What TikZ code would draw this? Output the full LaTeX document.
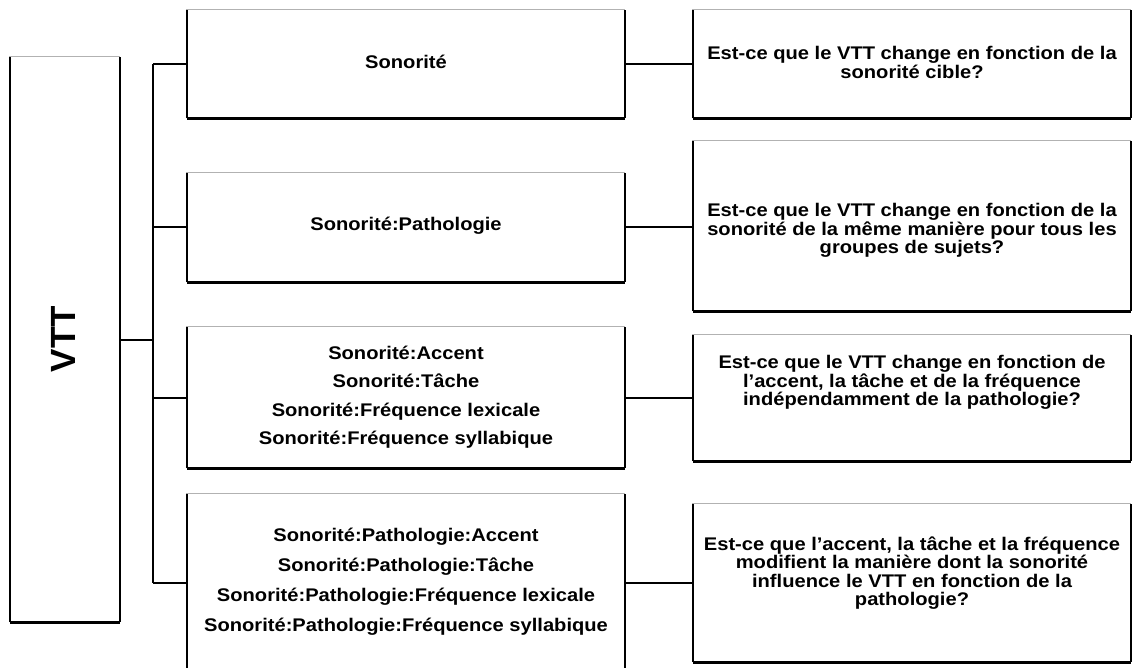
\documentclass[tikz,border=0pt]{standalone}
\usepackage{fontspec}
\setmainfont{Liberation Sans}[FakeStretch=1.1]
\newfontfamily\vttfont{Liberation Sans}
\usetikzlibrary{fit}
\newcommand\mybox[5]{%
  \path (#2,#3) coordinate (#1-nw) (#4,#5) coordinate (#1-se);
  \node[boxshape, fit=(#1-nw)(#1-se)] (#1) {};
  \draw[gray!60, line width=1pt] (#1.south west) |- (#1.north east);
  \draw[black, line width=1.6pt] (#1.south west) -- (#1.north west);
  \draw[black, line width=2.1pt] (#1.south east) -- (#1.north east);
  \draw[black, line width=3.2pt] (#1.south west) -- (#1.south east);
}
\begin{document}
\begin{tikzpicture}[x=1pt,y=-1pt,
  boxshape/.style={draw=none, fill=white, inner sep=0pt},
  conn/.style={line width=2pt, black},
  lbl/.style={font=\bfseries\fontsize{18.3}{18.5}\selectfont, align=center, inner sep=0pt},
]
\clip (0,0) rectangle (1135,668);
\fill[white] (0,0) rectangle (1135,668);

\mybox{vtt}{10}{57}{120}{622}
\mybox{m1}{187}{10}{625}{118}
\mybox{m2}{187}{173}{625}{282}
\mybox{m3}{187}{327}{625}{468}
\mybox{m4}{187}{494}{625}{672}
\mybox{r1}{693}{10}{1131}{118}
\mybox{r2}{693}{141}{1131}{311}
\mybox{r3}{693}{335}{1131}{461}
\mybox{r4}{693}{504}{1131}{662}

\coordinate (tx) at (153,0);
\draw[conn] (vtt.east) -- (vtt.east -| tx);
\draw[conn] (m1.west -| tx) -- (m4.west -| tx);
\foreach \m in {m1,m2,m3,m4} {\draw[conn] (\m.west -| tx) -- (\m.west);}
\foreach \m/\r in {m1/r1,m2/r2,m3/r3,m4/r4} {\draw[conn] (\m.east) -- (\m.east -| \r.west);}

\node[rotate=90, font=\vttfont\bfseries\fontsize{35}{35}\selectfont, inner sep=0pt] (vttt) at (63,339) {VTT};

\node[lbl] (m1t) at (406,62) {Sonorité};
\node[lbl] (m2t) at (406,226) {Sonorité:Pathologie};
\node[lbl, font=\bfseries\fontsize{18.3}{28.5}\selectfont] (m3t) at (406,397) {Sonorité:Accent\\Sonorité:Tâche\\Sonorité:Fréquence lexicale\\Sonorité:Fréquence syllabique};
\node[lbl, font=\bfseries\fontsize{18.3}{30}\selectfont] (m4t) at (406,582) {Sonorité:Pathologie:Accent\\Sonorité:Pathologie:Tâche\\Sonorité:Pathologie:Fréquence lexicale\\Sonorité:Pathologie:Fréquence syllabique};

\node[lbl] (r1t) at (912,62.5) {Est-ce que le VTT change en fonction de la\\sonorité cible?};
\node[lbl] (r2t) at (912,230.5) {Est-ce que le VTT change en fonction de la\\sonorité de la même manière pour tous les\\groupes de sujets?};
\node[lbl] (r3t) at (912,382.5) {Est-ce que le VTT change en fonction de\\l’accent, la tâche et de la fréquence\\indépendamment de la pathologie?};
\node[lbl] (r4t) at (912,573) {Est-ce que l’accent, la tâche et la fréquence\\modifient la manière dont la sonorité\\influence le VTT en fonction de la\\pathologie?};
\end{tikzpicture}
\end{document}
